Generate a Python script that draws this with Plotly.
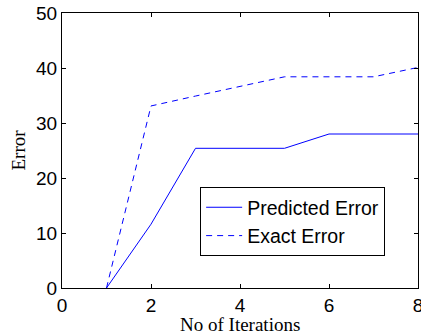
import plotly.graph_objects as go

iterations = [1, 2, 3, 4, 5, 6, 7, 8]
predicted_error = [0, 11.6, 25.4, 25.4, 25.4, 28.0, 28.0, 28.0]
exact_error = [0, 33.1, 34.9, 36.6, 38.4, 38.4, 38.4, 40.1]
x_ticks = [0, 2, 4, 6, 8]
y_ticks = [0, 10, 20, 30, 40, 50]

fig = go.Figure()
fig.add_trace(go.Scatter(x=iterations, y=predicted_error, mode="lines", name="Predicted Error",
                         line=dict(color="#0000ff", width=1)))
fig.add_trace(go.Scatter(x=iterations, y=exact_error, mode="lines", name="Exact Error",
                         line=dict(color="#0000ff", width=1, dash="6px,5px")))

axis_common = dict(showgrid=False, zeroline=False, showline=True, linecolor="black", linewidth=1,
                   mirror="allticks", ticks="inside", ticklen=4, tickcolor="black", automargin=False,
                   ticklabeloverflow="allow",
                   tickfont=dict(family="Liberation Sans, Arial", size=19, color="black"))
fig.update_xaxes(range=[0, 8], tickvals=x_ticks, **axis_common)
fig.update_yaxes(range=[0, 50], tickvals=y_ticks, **axis_common)

serif = dict(family="Liberation Serif, Times New Roman", size=19, color="black")
fig.add_annotation(text="No of Iterations", xref="paper", yref="paper", x=0.5, y=0,
                   xanchor="center", yanchor="middle", yshift=-36, showarrow=False, font=serif)
fig.add_annotation(text="Error", xref="paper", yref="paper", x=0, y=0.5, textangle=-90,
                   xanchor="center", yanchor="middle", xshift=-44, showarrow=False, font=serif)

fig.update_layout(width=421, height=335, margin=dict(l=62, r=3, t=13, b=47),
                  plot_bgcolor="white", paper_bgcolor="white",
                  legend=dict(x=0.388, y=0.367, xanchor="left", yanchor="top",
                              bordercolor="black", borderwidth=1, bgcolor="white",
                              font=dict(family="Liberation Sans, Arial", size=19.5, color="black"),
                              tracegroupgap=0, itemwidth=36),
                  showlegend=True)

fig.write_html("out.html", config={"displayModeBar": False},
               post_script="document.body.style.margin='0';document.body.style.overflow='hidden';")
